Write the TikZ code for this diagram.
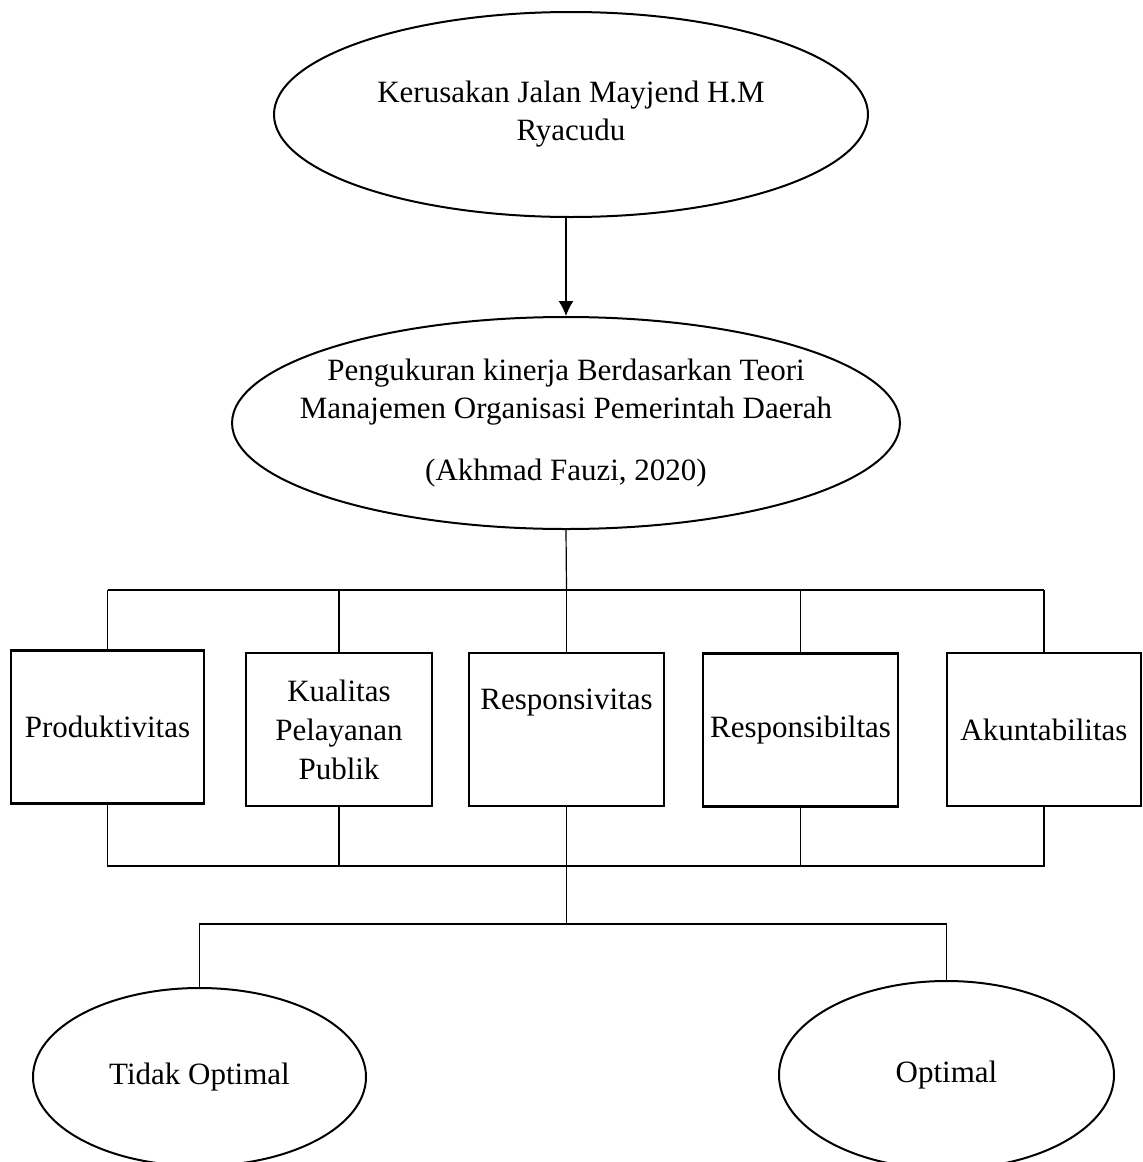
\documentclass[tikz,border=0pt]{standalone}
\usepackage{fontspec}
\setmainfont{Liberation Serif}
\usetikzlibrary{shapes.geometric, arrows.meta}

\tikzset{
    oval/.style={ellipse, draw=black, line width=1pt, inner sep=0pt, align=center, font=\fontsize{15.5}{19}\selectfont},
    kotak/.style={rectangle, draw=black, line width=1.3pt, inner sep=0pt, minimum height=76.5pt, align=center, font=\fontsize{15.5}{19.5}\selectfont},
    garis/.style={line width=0.6pt}
}

\begin{document}
\begin{tikzpicture}[x=0.5pt, y=-0.5pt]
    \useasboundingbox (0,0) rectangle (1142,1162);
    \clip (0,0) rectangle (1142,1162);
    \node[oval, minimum width=297pt, minimum height=102.5pt] (judul) at (571,114.5) {Kerusakan Jalan Mayjend H.M\\Ryacudu};
    \node[oval, inner xsep=-15pt, minimum width=333pt, minimum height=106pt] (teori) at (566,423) {Pengukuran kinerja Berdasarkan Teori\\Manajemen Organisasi Pemerintah Daerah\\[12pt](Akhmad Fauzi, 2020)};
    \node[kotak, minimum width=96.5pt] (prod) at (107.5,727) {Produktivitas};
    \node[kotak, minimum width=93pt] (kual) at (339,729.5) {Kualitas\\Pelayanan\\Publik};
    \node[kotak, minimum width=97.5pt, text height=10pt, text depth=30.5pt] (resp) at (566.5,729.5) {Responsivitas};
    \node[kotak, minimum width=97.5pt] (rspb) at (800.5,730) {Responsibiltas};
    \node[kotak, minimum width=97pt] (akun) at (1044,729.5) {Akuntabilitas};
    \node[oval, minimum width=166.5pt, minimum height=89pt] (tidak) at (199.5,1077) {Tidak Optimal};
    \node[oval, minimum width=167.5pt, minimum height=94pt] (opt) at (946.5,1075) {Optimal};
    \coordinate (atas) at (566.5,590);
    \coordinate (bawah) at (566.5,866);
    \coordinate (cabang) at (566.5,924);
    \draw[garis, -{Latex[length=7.5pt, width=7.5pt]}] (judul.south -| teori.north) -- (teori.north);
    \draw[garis] (teori.south) -- (atas);
    \draw[garis] (prod.north |- atas) -- (akun.north |- atas);
    \draw[garis] (prod.north |- atas) -- (prod.north);
    \draw[garis] (kual.north |- atas) -- (kual.north);
    \draw[garis] (resp.north |- atas) -- (resp.north);
    \draw[garis] (rspb.north |- atas) -- (rspb.north);
    \draw[garis] (akun.north |- atas) -- (akun.north);
    \draw[garis] (prod.south) -- (prod.south |- bawah) -- (akun.south |- bawah) -- (akun.south);
    \draw[garis] (kual.south) -- (kual.south |- bawah);
    \draw[garis] (rspb.south) -- (rspb.south |- bawah);
    \draw[garis] (resp.south) -- (cabang);
    \draw[garis] (tidak.north) -- (tidak.north |- cabang) -- (opt.north |- cabang) -- (opt.north);
\end{tikzpicture}
\end{document}
